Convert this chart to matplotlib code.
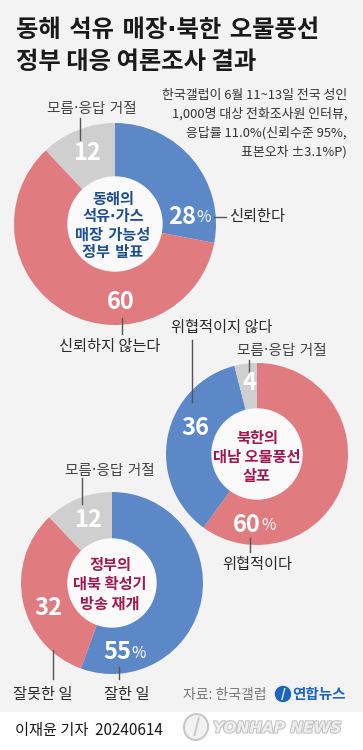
import matplotlib
matplotlib.use("Agg")
import matplotlib.pyplot as plt
from matplotlib.patches import Rectangle, Circle, Ellipse
import matplotlib.patheffects as pe

plt.rcParams['font.family'] = ['Noto Sans CJK KR', 'DejaVu Sans']
DOTFAM = ['DejaVu Sans', 'Noto Sans CJK KR']  # narrow middle dot

# ---------------- data ----------------
title_lines = ['동해 석유 매장·북한 오물풍선', '정부 대응 여론조사 결과']
note_lines = ['한국갤럽이 6월 11~13일 전국 성인',
              '1,000명 대상 전화조사원 인터뷰,',
              '응답률 11.0%(신뢰수준 95%,',
              '표본오차 ±3.1%P)']

q1_title = '동해의\n석유·가스\n매장 가능성\n정부 발표'
q1_labels = ['신뢰한다', '신뢰하지 않는다', '모름·응답 거절']
q1_values = [28, 60, 12]

q2_title = '북한의\n대남 오물풍선\n살포'
q2_labels = ['위협적이다', '위협적이지 않다', '모름·응답 거절']
q2_values = [60, 36, 4]

q3_title = '정부의\n대북 확성기\n방송 재개'
q3_labels = ['잘한 일', '잘못한 일', '모름·응답 거절']
q3_values = [55, 32, 12]

source = '자료: 한국갤럽'
byline = '이재윤 기자  20240614'

# ---------------- style ----------------
W, H = 363, 750
BG = '#f3f3f3'
INNER = '#fafafa'
BLUE = '#5c88c8'
RED = '#e07b80'
GRAY = '#cfcfcf'
NAVY = '#1e4f8f'
CRIMSON = '#a2174f'
TXT = '#2a2a2a'
LINE = '#555555'

fig = plt.figure(figsize=(W / 100, H / 100), dpi=100)
ax = fig.add_axes([0, 0, 1, 1])

def Y(y):
    return H - y

def fam(s):
    return DOTFAM if '·' in s else plt.rcParams['font.family']

ax.add_patch(Rectangle((0, Y(712)), W, 712, color=BG, zorder=0))
ax.add_patch(Rectangle((0, 0), W, H - 712, color='white', zorder=0))

def donut(vals, colors, cx, cy, r, rin):
    ax.pie(vals, colors=colors, startangle=90, counterclock=False,
           center=(cx, Y(cy)), radius=r,
           wedgeprops=dict(width=r - rin, linewidth=0, edgecolor='none'))
    ax.add_patch(Circle((cx, Y(cy)), rin, color=INNER, zorder=3))

def vline(x, y0, y1):
    ax.plot([x, x], [Y(y0), Y(y1)], color=LINE, lw=1, zorder=4)

def hline(x0, x1, y):
    ax.plot([x0, x1], [Y(y), Y(y)], color=LINE, lw=1, zorder=4)

def label(x, y, s, size=10.5, color=TXT, ha='center', weight='normal'):
    ax.text(x, Y(y), s, fontsize=size, color=color, ha=ha, va='center',
            weight=weight, zorder=5, family=fam(s))

def center_text(x, y, s, color):
    ax.text(x, Y(y), s, fontsize=11, weight='bold', color=color,
            ha='center', va='center', linespacing=1.25, zorder=5, family=fam(s))

def num(x, y, v, pct=False, size=17):
    if pct:
        ax.text(x, Y(y), str(v), fontsize=size, color='white', weight='bold',
                ha='right', va='center', zorder=5)
        ax.text(x + 0.5, Y(y) - 1, '%', fontsize=size * 0.66, color='white',
                ha='left', va='center', zorder=5)
    else:
        ax.text(x, Y(y), str(v), fontsize=size, color='white', weight='bold',
                ha='center', va='center', zorder=5)

# ---------------- title & note ----------------
ax.text(16, Y(30), title_lines[0], fontsize=17.5, weight='bold', color='#1a1a1a',
        ha='left', va='center', family=fam(title_lines[0]))
ax.text(16, Y(62), title_lines[1], fontsize=17.5, weight='bold', color='#1a1a1a',
        ha='left', va='center', family=fam(title_lines[1]))
for i, s in enumerate(note_lines):
    ax.text(347, Y(95 + i * 19), s, fontsize=9.3, color='#333333',
            ha='right', va='center')

# ---------------- donut 1 ----------------
donut(q1_values, [BLUE, RED, GRAY], 115, 224, 101, 47)
center_text(113, 226, q1_title, NAVY)
num(196, 217, q1_values[0], pct=True)
hline(214, 226, 217)
label(229, 217, q1_labels[0], ha='left', size=11)
num(121, 302, q1_values[1])
vline(122, 318, 334)
label(110, 346, q1_labels[1], size=11)
num(87, 153, q1_values[2])
vline(80, 118, 140)
label(92, 108, q1_labels[2], size=10.5, color='#444444')

# ---------------- donut 2 ----------------
donut(q2_values, [RED, BLUE, GRAY], 257, 454, 91, 45)
center_text(257, 457, q2_title, CRIMSON)
num(261, 525, q2_values[0], pct=True)
vline(250, 538, 552)
label(257, 565, q2_labels[0], size=11)
num(195, 428, q2_values[1])
vline(192, 340, 402)
label(222, 327, q2_labels[1], size=11)
num(249, 383, q2_values[2])
vline(249, 360, 372)
label(282, 350, q2_labels[2], size=10.5, color='#444444')

# ---------------- donut 3 ----------------
donut(q3_values, [BLUE, RED, GRAY], 112, 583, 91, 44)
center_text(110, 584, q3_title, CRIMSON)
num(131, 652, q3_values[0], pct=True)
vline(119, 667, 679)
label(127, 695, q3_labels[0], size=11)
num(48, 608, q3_values[1])
vline(53, 650, 679)
label(43, 695, q3_labels[1], size=11)
num(88, 520, q3_values[2])
vline(82, 478, 504)
label(110, 470, q3_labels[2], size=10.5, color='#444444')

# ---------------- footer ----------------
ax.text(183, Y(695), source, fontsize=10, color='#777777', ha='left', va='center')
ax.add_patch(Circle((283, Y(694)), 7.5, color='#1d64c0', zorder=5))
ax.text(283, Y(694), '/', fontsize=9, color='white', weight='bold', ha='center',
        va='center', style='italic', zorder=6)
ax.text(292, Y(694), '연합뉴스', fontsize=10.5, weight='bold', color='#1d64c0',
        ha='left', va='center')

ax.text(15, Y(730), byline, fontsize=11, color='#1a1a1a', ha='left', va='center')
ax.add_patch(Ellipse((196, Y(727)), 24, 26, angle=-15, facecolor='#f2f2f2',
                     edgecolor='#c8c8c8', lw=1.5, zorder=2))
ax.text(196, Y(727), '/', fontsize=14, color='#c8c8c8', weight='bold',
        ha='center', va='center', zorder=3)
ax.text(213, Y(728), 'YONHAP NEWS', fontsize=11, weight='bold', style='italic',
        color='#eeeeee', ha='left', va='center', family='DejaVu Sans',
        path_effects=[pe.withStroke(linewidth=1.6, foreground='#c4c4c4')], zorder=2)

ax.set_xlim(0, W)
ax.set_ylim(0, H)
ax.set_aspect('auto')
ax.axis('off')
fig.savefig('out.png', dpi=100)
